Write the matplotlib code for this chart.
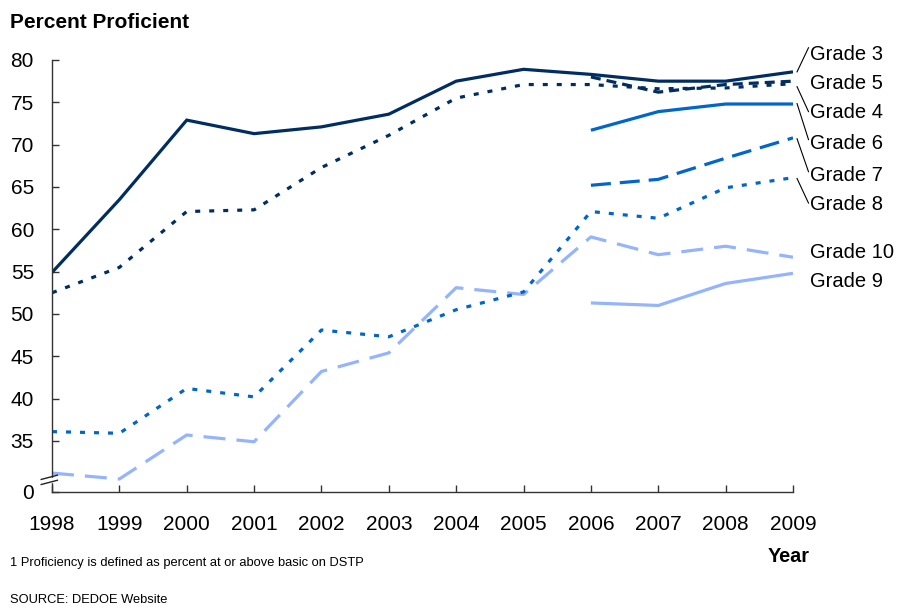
import matplotlib
matplotlib.use("Agg")
import matplotlib.pyplot as plt

plt.rcParams['font.family'] = ['Liberation Sans', 'DejaVu Sans']
plt.rcParams['lines.scale_dashes'] = False

# Percent proficient by grade, 1998-2009 (None = not tested that year)
years = list(range(1998, 2010))
grade3 = [54.9, 63.5, 72.9, 71.3, 72.1, 73.6, 77.5, 78.9, 78.3, 77.5, 77.5, 78.6]
grade5 = [52.5, 55.5, 62.1, 62.3, 67.3, 71.1, 75.5, 77.1, 77.1, 76.6, 76.7, 77.2]
grade4 = [None] * 8 + [78.0, 76.2, 77.1, 77.5]
grade6 = [None] * 8 + [71.7, 73.9, 74.8, 74.8]
grade7 = [None] * 8 + [65.2, 65.9, 68.4, 70.8]
grade8 = [36.1, 35.9, 41.2, 40.2, 48.1, 47.3, 50.5, 52.6, 62.1, 61.3, 64.9, 66.1]
grade10 = [31.2, 30.5, 35.7, 34.9, 43.2, 45.4, 53.1, 52.3, 59.1, 57.0, 58.0, 56.7]
grade9 = [None] * 8 + [51.3, 51.0, 53.6, 54.8]

y_ticks = [29, 35, 40, 45, 50, 55, 60, 65, 70, 75, 80]
y_tick_labels = ['0', '35', '40', '45', '50', '55', '60', '65', '70', '75', '80']

navy = '#002d62'
blue = '#0066cc'
light = '#94b4ff'


def pts(px):
    return px * 72.0 / 100.0


def series(vals):
    xs = [y for y, v in zip(years, vals) if v is not None]
    ys = [v for v in vals if v is not None]
    return xs, ys


fig = plt.figure(figsize=(8.97, 6.08), dpi=100)
ax = fig.add_axes([52 / 897, 1 - 491.7 / 608, (793 - 52) / 897, (491.7 - 60) / 608])

lw = 2.3
lines = [
    (grade10, light, (pts(22), pts(11))),
    (grade9, light, None),
    (grade8, blue, (pts(5), pts(9))),
    (grade7, blue, (pts(20), pts(9))),
    (grade6, blue, None),
    (grade5, navy, (pts(5), pts(9))),
    (grade4, navy, (pts(10), pts(6))),
    (grade3, navy, None),
]
for vals, color, dash in lines:
    xs, ys = series(vals)
    ln, = ax.plot(xs, ys, color=color, lw=lw, solid_capstyle='butt',
                  dash_capstyle='butt', solid_joinstyle='miter')
    if dash is not None:
        ln.set_dashes(dash)

ax.set_xlim(1998, 2009)
ax.set_ylim(29, 80)
ax.set_xticks(years)
ax.set_xticklabels([str(y) for y in years])
ax.set_yticks(y_ticks)
ax.set_yticklabels(y_tick_labels)
ax.tick_params(axis='both', direction='in', length=5, width=1, colors='#333333',
               labelcolor='black', labelsize=15)
ax.tick_params(axis='x', pad=17)
ax.tick_params(axis='y', pad=13)
for side in ['top', 'right']:
    ax.spines[side].set_visible(False)
for side in ['left', 'bottom']:
    ax.spines[side].set_color('#333333')
    ax.spines[side].set_linewidth(1)

# axis break marks near the bottom of the y axis
yb = 30.1
for dy in (0, 0.6):
    ax.plot([1997.84, 1998.08], [yb + dy - 0.25, yb + dy + 0.25], color='#222222',
            lw=1, clip_on=False, zorder=5)
ax.add_patch(plt.Rectangle((1997.99, yb + 0.1), 0.03, 0.45, color='white',
                           clip_on=False, zorder=4))

# grade labels with leader lines
labels = [
    ('Grade 3', 80.7, (78.6, 81.45)),
    ('Grade 5', 77.2, None),
    ('Grade 4', 73.8, (76.85, 73.9)),
    ('Grade 6', 70.1, (74.85, 70.6)),
    ('Grade 7', 66.4, (70.7, 66.8)),
    ('Grade 8', 62.9, (66.0, 63.1)),
    ('Grade 10', 57.3, None),
    ('Grade 9', 53.8, None),
]
for text, ypos, leader in labels:
    ax.text(2009.25, ypos, text, fontsize=14.5, va='center', ha='left', clip_on=False)
    if leader is not None:
        ax.plot([2009.06, 2009.23], leader, color='black', lw=0.8, clip_on=False)

fig.text(10 / 897, 1 - 23 / 608, 'Percent Proficient', fontsize=15, fontweight='bold',
         va='center', ha='left')
fig.text(789 / 897, 1 - 557 / 608, 'Year', fontsize=14.3, fontweight='bold',
         va='center', ha='center')
fig.text(10 / 897, 1 - 563 / 608, '1 Proficiency is defined as percent at or above basic on DSTP',
         fontsize=9.3, va='center', ha='left')
fig.text(10 / 897, 1 - 600 / 608, 'SOURCE: DEDOE Website', fontsize=9.3, va='center', ha='left')

fig.savefig('out.png', dpi=100)
